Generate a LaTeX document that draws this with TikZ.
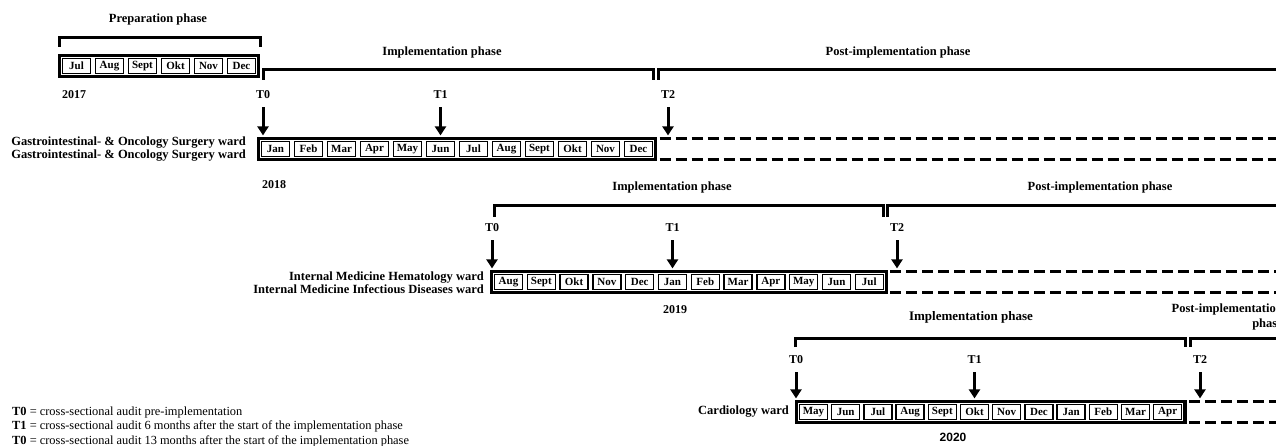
\documentclass[tikz,border=0pt]{standalone}
\usepackage{fontspec}
\setmainfont{Liberation Serif}
\newfontfamily\yearsans{Liberation Sans}
\usepackage{tikz}
\usetikzlibrary{positioning,arrows.meta,fit}

\begin{document}
\begin{tikzpicture}[
    x=1pt, y=-1pt,
    every node/.style={inner sep=0pt},
    month/.style={draw, line width=1.4pt, minimum width=28pt, minimum height=15pt, inner sep=0pt, font=\fontsize{11}{12}\selectfont\bfseries},
    frame/.style={draw, line width=3.6pt, inner sep=2.4pt, outer sep=0pt},
    brace/.style={line width=3pt},
    postline/.style={line width=3.6pt, dash pattern=on 11pt off 5pt},
    arr/.style={-{Triangle[length=9pt, width=11pt]}, line width=3pt, shorten <=8pt, shorten >=3pt},
    phase/.style={font=\fontsize{12.5}{14}\selectfont\bfseries},
    tlbl/.style={font=\fontsize{12}{13}\selectfont\bfseries},
    ward/.style={font=\fontsize{12.5}{12.8}\selectfont\bfseries, align=right, anchor=east},
    year/.style={font=\fontsize{12}{14}\selectfont\bfseries}
]
\useasboundingbox (0,0) rectangle (1276,446);
\clip (0,0) rectangle (1276,446);
\coordinate (edge) at (1300,0);

% 2017: preparation
\node[phase] (prep) at (158,19) {Preparation phase};
\foreach \m [count=\i] in {Jul,Aug,Sept,Okt,Nov,Dec}
  \node[month] (p\i) at ({76.5+(\i-1)*33},66) {\m};
\node[frame, fit=(p1)(p6)] (rowP) {};
\draw[brace] (59,47) -- (59,38) -- (260,38) -- (260,47);
\node[year, anchor=west] (y17) at (62,95) {2017};

% 2018: gastrointestinal & oncology surgery
\foreach \m [count=\i] in {Jan,Feb,Mar,Apr,May,Jun,Jul,Aug,Sept,Okt,Nov,Dec}
  \node[month] (a\i) at ({275.5+(\i-1)*33},149) {\m};
\node[frame, fit=(a1)(a12)] (rowA) {};
\node[ward] (wardA) at (246,149) {Gastrointestinal- \& Oncology Surgery ward\\Gastrointestinal- \& Oncology Surgery ward};
\node[year, anchor=west] (y18) at (262,185) {2018};

\node[phase] (impA) at (442,52) {Implementation phase};
\node[phase] (postA) at (898,52) {Post-implementation phase};
\draw[brace] (263,80) -- (263,70) -- (653,70) -- (653,80);
\draw[brace] (658,80) -- (658,70) -- (1290,70);

\node[tlbl] (t0a) at (263,95) {T0};
\node[tlbl] (t1a) at (a6 |- t0a) {T1};
\node[tlbl] (t2a) at (668,95) {T2};
\draw[arr] (t0a) -- (t0a |- rowA.north);
\draw[arr] (t1a) -- (t1a |- rowA.north);
\draw[arr] (t2a) -- (t2a |- rowA.north);
\draw[postline] ([xshift=4pt]rowA.north east) -- (rowA.north east -| edge);
\draw[postline] ([xshift=4pt]rowA.south east) -- (rowA.south east -| edge);

% 2019: internal medicine
\foreach \m [count=\i] in {Aug,Sept,Okt,Nov,Dec,Jan,Feb,Mar,Apr,May,Jun,Jul}
  \node[month] (b\i) at ({508.5+(\i-1)*32.8},282) {\m};
\node[frame, fit=(b1)(b12)] (rowB) {};
\node[ward] (wardB) at (484,283) {Internal Medicine Hematology ward\\Internal Medicine Infectious Diseases ward};
\node[year] (y19) at (675,310) {2019};

\node[phase] (impB) at (672,187) {Implementation phase};
\node[phase] (postB) at (1100,187) {Post-implementation phase};
\draw[brace] (494,217) -- (494,206) -- (883,206) -- (883,217);
\draw[brace] (887,217) -- (887,206) -- (1290,206);

\node[tlbl] (t0b) at (492,228) {T0};
\node[tlbl] (t1b) at (b6 |- t0b) {T1};
\node[tlbl] (t2b) at (897,228) {T2};
\draw[arr] (t0b) -- (t0b |- rowB.north);
\draw[arr] (t1b) -- (t1b |- rowB.north);
\draw[arr] (t2b) -- (t2b |- rowB.north);
\draw[postline] ([xshift=4pt]rowB.north east) -- (rowB.north east -| edge);
\draw[postline] ([xshift=4pt]rowB.south east) -- (rowB.south east -| edge);

% 2020: cardiology
\foreach \m [count=\i] in {May,Jun,Jul,Aug,Sept,Okt,Nov,Dec,Jan,Feb,Mar,Apr}
  \node[month] (c\i) at ({813.5+(\i-1)*32.2},412) {\m};
\node[frame, fit=(c1)(c12)] (rowC) {};
\node[ward] (wardC) at (789,412) {Cardiology ward};
\node[year, font=\fontsize{12}{14}\selectfont\yearsans\bfseries] (y20) at (953,437) {2020};

\node[phase, font=\fontsize{13}{14}\selectfont\bfseries] (impC) at (971,317) {Implementation phase};
\node[phase, align=right, anchor=east, font=\fontsize{12.5}{15}\selectfont\bfseries] (postC) at (1283,316.5) {Post-implementation\\phase};
\draw[brace] (795,347) -- (795,338) -- (1185,338) -- (1185,347);
\draw[brace] (1190,347) -- (1190,338) -- (1290,338);

\node[tlbl] (t0c) at (796,360) {T0};
\node[tlbl] (t1c) at (c6 |- t0c) {T1};
\node[tlbl] (t2c) at (1200,360) {T2};
\draw[arr] (t0c) -- (t0c |- rowC.north);
\draw[arr] (t1c) -- (t1c |- rowC.north);
\draw[arr] (t2c) -- (t2c |- rowC.north);
\draw[postline] ([xshift=4pt]rowC.north east) -- (rowC.north east -| edge);
\draw[postline] ([xshift=4pt]rowC.south east) -- (rowC.south east -| edge);

% legend
\node[anchor=west, align=left, font=\fontsize{12.4}{14.5}\selectfont] (legend) at (12,427)
{\textbf{T0} = cross-sectional audit pre-implementation\\
 \textbf{T1} = cross-sectional audit 6 months after the start of the implementation phase\\
 \textbf{T0} = cross-sectional audit 13 months after the start of the implementation phase};

\end{tikzpicture}
\end{document}
